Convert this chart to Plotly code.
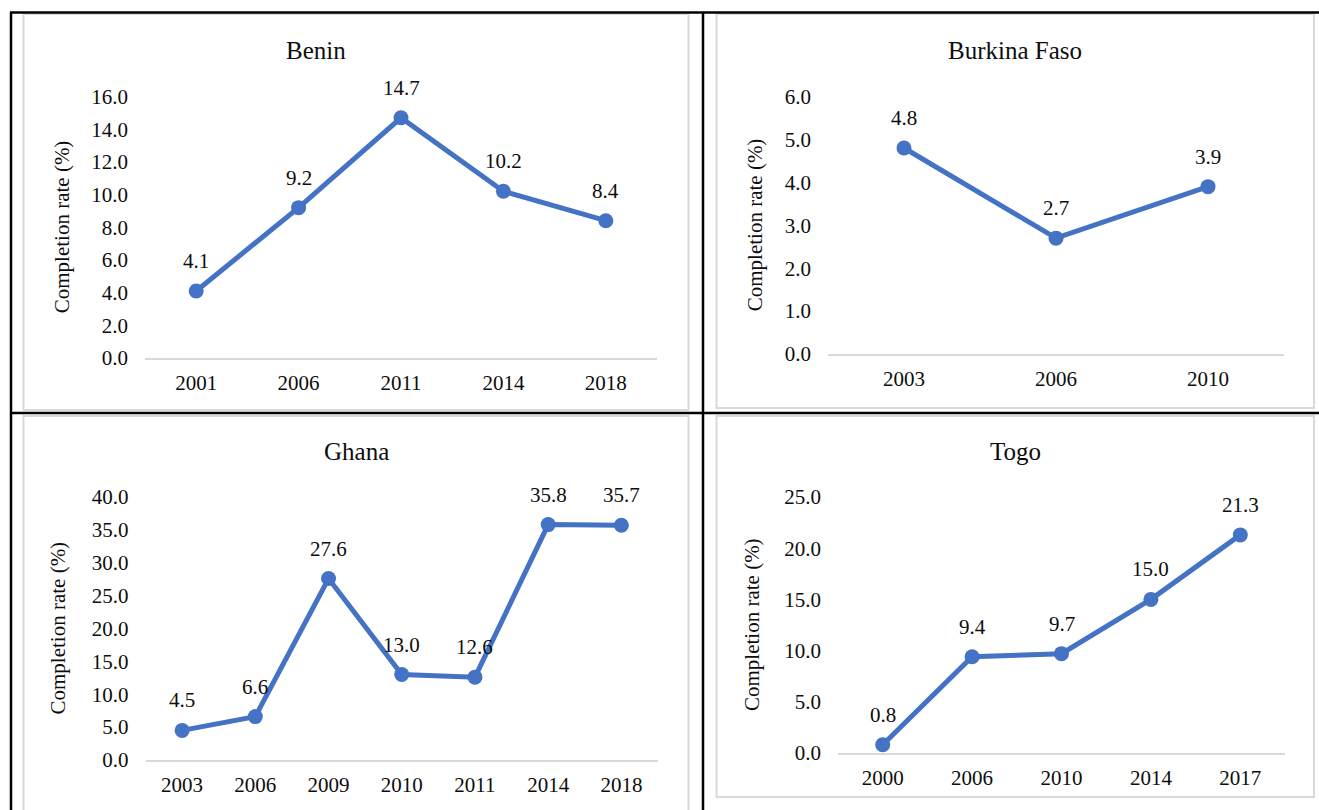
import plotly.graph_objects as go

# Completion rates (%) by survey year
benin_years = ["2001", "2006", "2011", "2014", "2018"]
benin_rates = [4.1, 9.2, 14.7, 10.2, 8.4]

burkina_years = ["2003", "2006", "2010"]
burkina_rates = [4.8, 2.7, 3.9]

ghana_years = ["2003", "2006", "2009", "2010", "2011", "2014", "2018"]
ghana_rates = [4.5, 6.6, 27.6, 13.0, 12.6, 35.8, 35.7]

togo_years = ["2000", "2006", "2010", "2014", "2017"]
togo_rates = [0.8, 9.4, 9.7, 15.0, 21.3]

panel_titles = ["Benin", "Burkina Faso", "Ghana", "Togo"]
y_maxima = [16, 6, 40, 25]
y_steps = [2, 1, 5, 5]
y_title = "Completion rate (%)"

W, H = 1319, 810
FONT = "Liberation Serif, Times New Roman, serif"
BLUE = "#4472C4"
GRAY = "#d9d9d9"
TEXT = "#0d0d0d"


def px(x):
    return x / W


def py(y):
    return 1 - y / H


# plot areas in pixels: (left, right, top, bottom)
areas = [
    (145, 657, 96.5, 358),
    (828, 1284, 96.5, 354),
    (145.5, 658, 497, 760),
    (838, 1285, 497, 753),
]
title_pos = [(316, 50), (1015, 50), (356, 451), (1015, 451)]
ytitle_x = [62, 755, 57, 752]

series = [
    (benin_years, benin_rates),
    (burkina_years, burkina_rates),
    (ghana_years, ghana_rates),
    (togo_years, togo_rates),
]

fig = go.Figure()
annotations = []
layout_axes = {}

for i, ((cats, vals), area) in enumerate(zip(series, areas)):
    n = i + 1
    xa = "x" if n == 1 else f"x{n}"
    ya = "y" if n == 1 else f"y{n}"
    fig.add_trace(go.Scatter(
        x=cats, y=vals, xaxis=xa, yaxis=ya, mode="lines+markers",
        line=dict(color=BLUE, width=5),
        marker=dict(color=BLUE, size=15),
        showlegend=False, hoverinfo="x+y",
    ))
    left, right, top, bottom = area
    xkey = "xaxis" if n == 1 else f"xaxis{n}"
    ykey = "yaxis" if n == 1 else f"yaxis{n}"
    layout_axes[xkey] = dict(
        domain=[px(left), px(right)], anchor=ya, type="category",
        range=[-0.5, len(cats) - 0.5], showgrid=False, zeroline=False,
        showline=True, linecolor=GRAY, linewidth=1.5, ticks="",
        ticklabelstandoff=5,
        tickfont=dict(family=FONT, size=21, color=TEXT),
    )
    tickvals = [k * y_steps[i] for k in range(int(y_maxima[i] / y_steps[i]) + 1)]
    layout_axes[ykey] = dict(
        domain=[py(bottom), py(top)], anchor=xa, range=[0, y_maxima[i]],
        showgrid=False, zeroline=False, showline=False, ticks="",
        tickvals=tickvals, ticktext=[f"{v:.1f}" for v in tickvals],
        ticklabelstandoff=16,
        tickfont=dict(family=FONT, size=21, color=TEXT),
    )
    # value labels above each point (category axes take the serial index)
    for k, v in enumerate(vals):
        annotations.append(dict(
            x=k, y=v, xref=xa, yref=ya, text=f"{v:.1f}", showarrow=False,
            yshift=30, font=dict(family=FONT, size=21, color=TEXT),
        ))
    # panel title
    tx, ty = title_pos[i]
    annotations.append(dict(
        x=px(tx), y=py(ty), xref="paper", yref="paper", text=panel_titles[i],
        showarrow=False, xanchor="center", yanchor="middle",
        font=dict(family=FONT, size=25, color=TEXT),
    ))
    # vertical axis title
    annotations.append(dict(
        x=px(ytitle_x[i]), y=py((top + bottom) / 2), xref="paper", yref="paper",
        text=y_title, textangle=-90, showarrow=False,
        xanchor="center", yanchor="middle",
        font=dict(family=FONT, size=21, color=TEXT),
    ))

shapes = []
# light chart frames
for (x0, y0, x1, y1) in [(23.5, 14, 688.5, 410), (716.5, 14, 1314, 408),
                         (23.5, 416, 688.5, 830), (716.5, 416, 1314, 797)]:
    shapes.append(dict(type="rect", xref="paper", yref="paper",
                       x0=px(x0), x1=px(x1), y0=py(y0), y1=py(y1),
                       line=dict(color=GRAY, width=2), layer="below"))
# table rules
for (x0, y0, x1, y1) in [(10, 12.5, W, 12.5), (10, 413, W, 413),
                         (11, 12, 11, H), (703, 12, 703, H)]:
    shapes.append(dict(type="line", xref="paper", yref="paper",
                       x0=px(x0), x1=px(x1), y0=py(y0), y1=py(y1),
                       line=dict(color="black", width=2.5)))

fig.update_layout(
    width=W, height=H,
    margin=dict(l=0, r=0, t=0, b=0, pad=0, autoexpand=False),
    paper_bgcolor="white", plot_bgcolor="white",
    annotations=annotations, shapes=shapes, **layout_axes,
)

fig.write_html("out.html")
